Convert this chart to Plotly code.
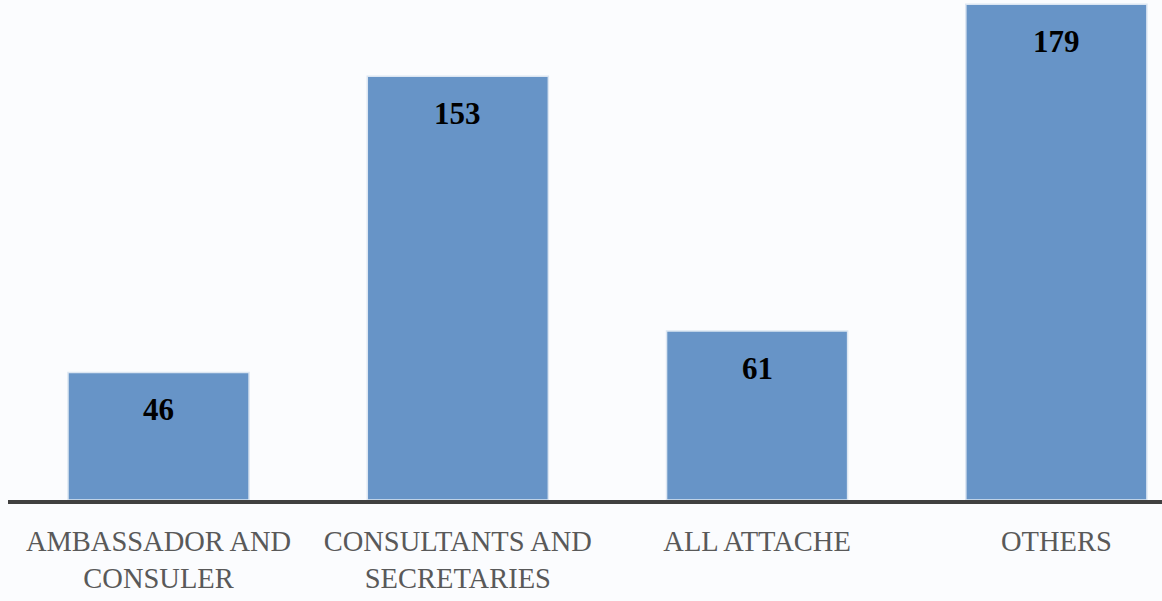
import plotly.graph_objects as go

categories = ["AMBASSADOR AND<br>CONSULER", "CONSULTANTS AND<br>SECRETARIES", "ALL ATTACHE", "OTHERS"]
values = [46, 153, 61, 179]

fig = go.Figure()
fig.add_trace(go.Bar(
    x=list(range(len(categories))),
    y=values,
    marker=dict(color="#6794c7", line=dict(color="#dce6f2", width=1.5)),
    width=0.605,
    hoverinfo="skip",
))

for i, v in enumerate(values):
    fig.add_annotation(
        x=i, y=v, text=f"<b>{v}</b>", showarrow=False,
        yshift=-37, yanchor="middle",
        font=dict(family="Liberation Serif", size=31, color="#000000"),
    )

fig.update_layout(
    width=1162, height=601,
    margin=dict(l=8, r=0, t=0, b=101),
    paper_bgcolor="#fbfcfe",
    plot_bgcolor="#fbfcfe",
    showlegend=False,
    xaxis=dict(
        range=[-0.503, 3.353],
        tickmode="array",
        tickvals=list(range(len(categories))),
        ticktext=categories,
        showline=True, linecolor="#404040", linewidth=4,
        showgrid=False, zeroline=False, ticks="",
        tickfont=dict(family="Liberation Serif", size=28.5, color="#595959"),
        ticklabelstandoff=13,
    ),
    yaxis=dict(
        range=[0, 180.5],
        visible=False, showgrid=False, zeroline=False,
    ),
)

fig.write_html(
    "out.html",
    config={"displayModeBar": False},
    post_script="document.body.style.margin='0';document.body.style.background='#fbfcfe';",
)
